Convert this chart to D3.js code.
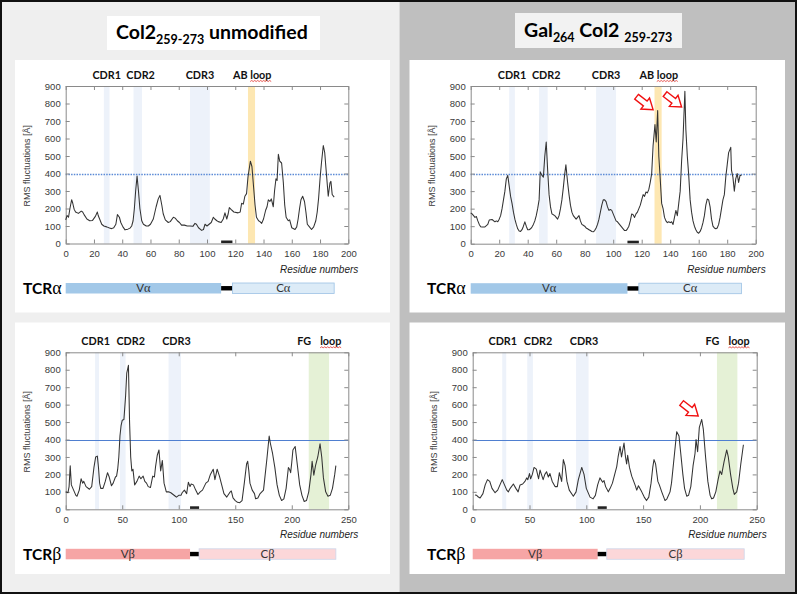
<!DOCTYPE html>
<html><head><meta charset="utf-8">
<script src="https://cdn.jsdelivr.net/npm/d3@7/dist/d3.min.js"></script>
<style>body{margin:0;background:#fff}svg{display:block}</style>
</head><body><svg id="c" width="797" height="594"></svg>
<script>
// ---------- data ----------
const xTicksAlpha = [0,20,40,60,80,100,120,140,160,180,200];
const xTicksBeta = [0,50,100,150,200,250];
const yTicks = [0,100,200,300,400,500,600,700,800,900];
const titleLeft = ["Col2", "259-273", " unmodified"];
const titleRight = ["Gal", "264", " Col2 ", "259-273"];

const bandsAlpha = [[27,31,"cdr"],[48,54,"cdr"],[88,102,"cdr"],[129,134,"ab"]];
const bandsBeta = [[26,29.5,"cdr"],[48,53,"cdr"],[91,102,"cdr"],[215,233,"fg"]];
const labelsAlpha = [{t:"CDR1",r:29},{t:"CDR2",r:53},{t:"CDR3",r:95},{t:"AB loop",r:132,sq:3}];
const labelsBeta = [{t:"CDR1",r:26.5},{t:"CDR2",r:57.5},{t:"CDR3",r:98},{t:"FG",r:211},{t:"loop",r:234.5,sq:0}];

const domainsAlpha = [{name:"Vα",a:0,b:110,k:"V"},{name:"",a:110,b:118,k:"L"},{name:"Cα",a:118,b:190,k:"C"}];
const domainsBeta = [{name:"Vβ",a:0,b:110,k:"V"},{name:"",a:110,b:118,k:"L"},{name:"Cβ",a:118,b:239,k:"C"}];
const linkerRes = [110,118];

const rmsfAlphaCol2 = [[0,135],[1,160],[2,150],[3,200],[4.2,250],[5,230],[6,195],[7,180],[9,172],[11,185],[12,180],[13,165],[15,140],[17,130],[19,132],[21,155],[22.4,180],[23,160],[24,140],[25.5,110],[27,100],[29,95],[31,88],[32.5,85],[34,90],[35.5,110],[36.6,165],[38,150],[39,120],[40.5,95],[42,78],[44,82],[45.5,88],[46.7,100],[47.7,130],[48.6,200],[49.5,300],[50.5,385],[51.5,300],[52.5,200],[53.8,130],[55,110],[57,100],[58.5,100],[60,110],[62,140],[64,210],[65.5,255],[66.7,275],[68,220],[69,170],[70.5,135],[72.6,120],[74,125],[76.2,150],[77.5,145],[79,130],[80.5,120],[82,105],[84,105],[86,100],[88,100],[90,98],[91.5,115],[92.5,110],[94,90],[96.2,75],[97.5,80],[98.6,110],[100,100],[101.5,110],[103,120],[104.5,150],[105.5,140],[107,130],[108,125],[110,120],[111.5,140],[112.7,175],[114,140],[115,170],[115.8,205],[117,195],[119,180],[122,175],[123.5,180],[124.5,230],[125.7,225],[126.8,270],[128,285],[129,380],[130.7,470],[131.8,440],[133,320],[134,220],[135,150],[136.5,130],[137.5,125],[138.7,115],[140,140],[141.5,190],[142.5,210],[143.4,250],[144.5,240],[145.5,255],[146.9,210],[147.8,300],[148.8,370],[149.6,360],[150.5,510],[151.5,470],[152.8,460],[154,350],[155,220],[156,150],[157.5,130],[158.5,135],[160,90],[162.3,80],[163.5,95],[164.5,140],[165.5,200],[166.5,250],[167.7,270],[169,240],[170,180],[171,110],[172.5,95],[174,80],[175.5,95],[177,130],[178,180],[179,260],[180,370],[181,460],[182.3,560],[183.3,520],[184.3,420],[185.8,270],[187,345],[187.7,355],[188.6,280],[190,265]];

const rmsfAlphaGal = [[0,175],[1,170],[2,160],[3,150],[4,155],[5,130],[6,110],[7,97],[8,95],[10,96],[12,110],[13,135],[15,138],[17,125],[18,130],[19,125],[20,140],[21,160],[22,200],[23,250],[24,300],[25,370],[26,390],[27,330],[28,270],[29,230],[30,180],[31,140],[32,110],[33,85],[34,72],[35,70],[36,80],[37,100],[38,125],[39,100],[40,80],[41,80],[42,85],[43,95],[44,110],[45,130],[46,160],[47,200],[48,250],[48.8,410],[50,390],[51,380],[52,500],[53,580],[54,420],[55,280],[56,210],[57,170],[58,165],[59,160],[60,150],[61,140],[62,160],[63,200],[64,250],[65,320],[66,400],[66.8,450],[68,350],[69,280],[70,220],[71,180],[72,160],[73,150],[74,140],[75,150],[76,160],[77,130],[78,110],[79,105],[80,100],[81,90],[82,85],[83,80],[84,75],[85,70],[86,68],[87,75],[88,90],[89,110],[90,140],[91,180],[92,220],[93,250],[94,250],[95,240],[96,210],[97,190],[98,195],[99,190],[100,170],[101,150],[102,130],[103,125],[104,115],[105,105],[106,95],[107,85],[108,75],[109,75],[110,85],[111,100],[112,130],[113,170],[114,165],[115,150],[116,170],[117,180],[118,200],[119,220],[120,250],[121,280],[122,270],[123,295],[124,290],[125,310],[126,350],[127,400],[128,560],[129.3,680],[130.2,580],[131.2,760],[132,500],[133,370],[134,230],[135,200],[136,150],[137,130],[138,120],[139,125],[140,120],[141,125],[142,110],[143,150],[144,190],[145,160],[146,230],[147,300],[148,470],[149,600],[150.3,870],[151,650],[152,500],[153,390],[154,250],[155,180],[156,130],[157,100],[158,80],[159,65],[160,60],[161,70],[162,90],[163,120],[164,160],[165,220],[166,255],[167,250],[168,210],[169,140],[170,100],[171,90],[172,85],[173,90],[174,110],[175,150],[176,200],[177,250],[178,280],[179,380],[180,450],[181,520],[182.5,550],[183,420],[184,380],[185,300],[186,370],[187,400],[188,350],[189,390],[190,390]];

const rmsfBetaCol2 = [[0,100],[2,95],[3,130],[4,250],[5,140],[7,110],[9,80],[10,75],[12,110],[13.6,175],[15,150],[16,160],[18,130],[21,115],[23,130],[25,240],[26.5,300],[28,305],[29,240],[30,150],[31,120],[33,120],[35,160],[37,210],[38.5,185],[40.5,135],[42,150],[44,185],[45,190],[46,230],[47,300],[48,420],[49,480],[50,510],[51.5,515],[53,650],[54,780],[55.5,825],[56.5,500],[57.5,300],[58.5,220],[59.5,230],[61,140],[63,160],[65,190],[66.5,175],[68.5,190],[70,160],[71.5,150],[73,130],[75,125],[77,190],[78.5,185],[79.5,245],[81,310],[82.5,340],[84,220],[85.5,280],[87,150],[89,100],[91,100],[93,95],[95,85],[97,75],[98,70],[100,80],[102,80],[103,95],[105,110],[107,90],[108.5,155],[110,130],[111,145],[113,140],[115,110],[117,85],[119,100],[121,110],[124,150],[126,160],[128,200],[130.5,230],[132,170],[134,230],[136,190],[138,140],[140,90],[142.5,70],[145,95],[146.5,105],[148,65],[150,50],[152,40],[154,38],[156,50],[158,150],[160,260],[161,275],[162,220],[163,150],[165,110],[167,90],[168,60],[170,65],[172,90],[173.5,100],[175,110],[176,170],[178,290],[180,420],[181,380],[183,320],[185,240],[187,140],[189,80],[191,50],[193,60],[195,120],[197,240],[198,230],[199,210],[200,270],[201,340],[203,360],[205,250],[207,140],[209,80],[211,45],[213,50],[215,100],[217,200],[218,275],[219.5,195],[221,250],[223,300],[225,375],[226.5,300],[228,180],[230,100],[232,75],[234,80],[236,120],[238,200],[239,250]];

const rmsfBetaGal = [[2,82],[3.5,80],[5,70],[6.5,65],[9,90],[11,140],[13,170],[15,160],[17,120],[19.7,95],[22,110],[24,140],[26,170],[28,140],[30,110],[31.4,100],[33,120],[35.8,145],[38,120],[40,100],[41.7,140],[44,145],[46,160],[47.5,180],[48.5,170],[50,205],[51,175],[52.5,200],[54,240],[56,230],[58,175],[59.3,225],[60.5,200],[62,170],[63.5,200],[65,215],[66.6,185],[68,205],[70,160],[72.5,130],[74.5,130],[76.3,210],[78.3,160],[79.8,285],[81.3,250],[83,160],[85,110],[88.6,75],[91,100],[93,170],[96,240],[98,200],[100,120],[103.3,70],[106,60],[108,80],[110,140],[112,180],[114.4,155],[115.6,165],[117,130],[119.4,100],[121,120],[123,150],[125,200],[126.8,245],[128,300],[129.7,360],[131,300],[133.2,380],[134.5,300],[135.5,260],[136.4,310],[138,240],[140,190],[142.9,140],[144.4,110],[145.9,135],[148.8,100],[151,70],[153,50],[155,70],[157,150],[158.5,240],[159.6,285],[161,260],[163,160],[164.3,140],[166.4,100],[169.3,50],[171,60],[173.7,100],[175,150],[177.5,310],[179.6,445],[181.6,420],[183,330],[185,200],[186.5,120],[188.4,75],[190,80],[192,130],[194,250],[195.7,320],[196.6,400],[198,330],[199.5,470],[201.6,515],[203,460],[205,300],[207,160],[209,80],[210.4,60],[212,65],[214,100],[216,170],[217.7,220],[219.2,200],[221.2,270],[223.6,340],[225,300],[227,200],[229,120],[230.3,85],[232.4,100],[234,150],[236,260],[238.3,370]];

const arrowsGalAlpha = [[128,765],[148,780]];
const arrowsGalBeta = [[198.5,535]];
const threshold = 400;

// ---------- layout ----------
const svg = d3.select("#c");
const W = 797, H = 594;
svg.append("rect").attr("x",0).attr("y",0).attr("width",399.5).attr("height",H).attr("fill","#efefef");
svg.append("rect").attr("x",399.5).attr("y",0).attr("width",W-399.5).attr("height",H).attr("fill","#bfbfbf");
svg.append("rect").attr("x",1).attr("y",1).attr("width",W-2).attr("height",H-2).attr("fill","none").attr("stroke","#111").attr("stroke-width",2);

const LAB = "Lato, 'Open Sans', sans-serif";
const TICKF = "'Liberation Sans', Arial, sans-serif";

function title(box, fill, x0, base) {
  svg.append("rect").attr("x",box[0]).attr("y",box[1]).attr("width",box[2]-box[0]).attr("height",box[3]-box[1]).attr("fill",fill);
  return svg.append("text").attr("x",x0).attr("y",base).attr("font-family",LAB).attr("font-weight","bold").attr("font-size",19.5).attr("fill","#000").attr("xml:space","preserve");
}
const tl = title([107,16,320,50],"#ffffff",116,39);
tl.append("tspan").text(titleLeft[0]);
tl.append("tspan").attr("font-size",12.5).attr("dy",5).text(titleLeft[1]);
tl.append("tspan").attr("dy",-5).text(titleLeft[2]);
const tr = title([515,13,682,48],"#f2f2f2",524,37);
tr.append("tspan").text(titleRight[0]);
tr.append("tspan").attr("font-size",12.5).attr("dy",5).text(titleRight[1]);
tr.append("tspan").attr("dy",-5).text(titleRight[2]);
tr.append("tspan").attr("font-size",12.5).attr("dy",5).text(titleRight[3]);

const panels = [
  {box:[15,60,390,312.5], L:65.7, R:348.3, T:86, B:243.5, xmax:200, xt:xTicksAlpha, bands:bandsAlpha, labels:labelsAlpha, data:rmsfAlphaCol2, dotted:true, dom:domainsAlpha, tcr:"α", tx:23, arrows:[]},
  {box:[409.5,60,785,312.5], L:470.7, R:755.7, T:86, B:243.7, xmax:200, xt:xTicksAlpha, bands:bandsAlpha, labels:labelsAlpha, data:rmsfAlphaGal, dotted:true, dom:domainsAlpha, tcr:"α", tx:427, arrows:arrowsGalAlpha},
  {box:[15,322.5,390,574], L:65.7, R:348.3, T:352.3, B:509.3, xmax:250, xt:xTicksBeta, bands:bandsBeta, labels:labelsBeta, data:rmsfBetaCol2, dotted:false, dom:domainsBeta, tcr:"β", tx:23, arrows:[]},
  {box:[409.5,322.5,785,574], L:472.7, R:756.7, T:352.3, B:509.3, xmax:250, xt:xTicksBeta, bands:bandsBeta, labels:labelsBeta, data:rmsfBetaGal, dotted:false, dom:domainsBeta, tcr:"β", tx:427, arrows:arrowsGalBeta}
];

const bandFill = {cdr:"#edf2fa", ab:"#fde7b2", fg:"#e5f1d6"};
const domFill = {α:{V:"#a2c8e8",C:"#dcebf7",stroke:"#9cc1e4"}, β:{V:"#f6a5a5",C:"#fcd7d9",stroke:"#cdd6ea"}};

panels.forEach(p => {
  const g = svg.append("g");
  g.append("rect").attr("x",p.box[0]).attr("y",p.box[1]).attr("width",p.box[2]-p.box[0]).attr("height",p.box[3]-p.box[1]).attr("fill","#fff");
  const x = d3.scaleLinear().domain([0,p.xmax]).range([p.L,p.R]);
  const y = d3.scaleLinear().domain([0,900]).range([p.B,p.T]);

  g.selectAll(".band").data(p.bands).join("rect").attr("class","band")
    .attr("x",d=>x(d[0])).attr("width",d=>x(d[1])-x(d[0]))
    .attr("y",p.T).attr("height",p.B-p.T).attr("fill",d=>bandFill[d[2]]);

  // threshold line
  const ty = Math.round(y(threshold)) + 0.5;
  g.append("line").attr("x1",p.L).attr("x2",p.R).attr("y1",ty).attr("y2",ty)
    .attr("stroke",p.dotted?"#5b8ad6":"#4f7fd0").attr("stroke-width",p.dotted?1.5:1)
    .attr("stroke-dasharray",p.dotted?"1.5,1.2":null);

  const axStyle = a => { a.selectAll("path").attr("stroke","#8a8a8a"); a.selectAll("line").attr("stroke","#8a8a8a");
     a.selectAll("text").attr("font-family",TICKF).attr("font-size",9.5).attr("fill","#3a3a3a"); };
  g.append("g").attr("transform",`translate(0,${p.B})`).call(d3.axisBottom(x).tickValues(p.xt).tickSizeInner(-4).tickSizeOuter(0).tickPadding(7)).call(axStyle);
  g.append("g").attr("transform",`translate(0,${p.T})`).call(d3.axisTop(x).tickValues(p.xt).tickSizeInner(-4).tickSizeOuter(0).tickFormat("")).call(axStyle);
  g.append("g").attr("transform",`translate(${p.L},0)`).call(d3.axisLeft(y).tickValues(yTicks).tickSizeInner(-4).tickSizeOuter(0).tickPadding(5)).call(axStyle);
  g.append("g").attr("transform",`translate(${p.R},0)`).call(d3.axisRight(y).tickValues(yTicks).tickSizeInner(-4).tickSizeOuter(0).tickFormat("")).call(axStyle);

  g.append("rect").attr("x",x(linkerRes[0])).attr("width",x(linkerRes[1])-x(linkerRes[0]))
    .attr("y",p.B-3).attr("height",2.6).attr("fill","#222");

  g.append("path").datum(p.data).attr("fill","none").attr("stroke","#333").attr("stroke-width",1.05)
    .attr("stroke-linejoin","round")
    .attr("d",d3.line().x(d=>x(d[0])).y(d=>y(d[1])));

  g.append("text").attr("transform",`translate(${p.L-36},${(p.T+p.B)/2+1}) rotate(-90)`)
    .attr("text-anchor","middle").attr("font-family",TICKF).attr("font-size",9).attr("fill","#3a3a3a")
    .text("RMS fluctuations [Å]");
  g.append("text").attr("x",p.R+10).attr("y",p.B+29).attr("text-anchor","end")
    .attr("font-family",TICKF).attr("font-style","italic").attr("font-size",10).attr("fill","#222")
    .text("Residue numbers");

  p.labels.forEach(l => {
    const t = g.append("text").attr("x",x(l.r)).attr("y",p.T-7).attr("text-anchor","middle")
      .attr("font-family",LAB).attr("font-weight","bold").attr("font-size",10.8).attr("fill","#111").text(l.t);
    if (l.sq !== undefined) {
      const n = t.node();
      const s = n.getStartPositionOfChar(l.sq).x, e = n.getEndPositionOfChar(l.t.length-1).x;
      const yy = p.T-4.5; let dstr = `M${s},${yy}`; let up = true;
      for (let xx = s+1.5; xx <= e; xx += 1.5) { dstr += `L${xx},${up?yy-1:yy}`; up = !up; }
      g.append("path").attr("d",dstr).attr("fill","none").attr("stroke","#e0302a").attr("stroke-width",0.8);
    }
  });

  const by = p.B+39.5, bh = 10.5, col = domFill[p.tcr];
  p.dom.forEach(d => {
    if (d.k === "L") {
      g.append("rect").attr("x",x(d.a)).attr("width",x(d.b)-x(d.a)).attr("y",by+bh/2-2.2).attr("height",4.4).attr("fill","#000");
    } else {
      g.append("rect").attr("x",x(d.a)).attr("width",x(d.b)-x(d.a)).attr("y",by).attr("height",bh)
        .attr("fill",col[d.k]).attr("stroke",d.k==="C"?col.stroke:"none").attr("stroke-width",0.8);
      const t = g.append("text").attr("x",(x(d.a)+x(d.b))/2).attr("y",by+bh-1.5).attr("text-anchor","middle")
        .attr("font-family",LAB).attr("font-size",11.5).attr("fill","#333");
      t.append("tspan").text(d.name[0]);
      t.append("tspan").attr("font-family","'Liberation Serif', serif").attr("font-size",12.5).text(d.name.slice(1));
    }
  });
  const tt = g.append("text").attr("x",p.tx).attr("y",by+bh+0.5).attr("font-family",LAB).attr("font-weight","bold").attr("font-size",15.5).attr("fill","#000");
  tt.append("tspan").text("TCR");
  tt.append("tspan").attr("font-family","'Liberation Serif', serif").attr("font-weight","normal").attr("font-size",18).text(p.tcr);

  const shape = "M-21,-3L-10,-3L-10,-7L0,0L-10,7L-10,3L-21,3Z";
  p.arrows.forEach(a => {
    g.append("path").attr("d",shape)
      .attr("transform",`translate(${x(a[0])},${y(a[1])}) rotate(38)`)
      .attr("fill","#fff").attr("stroke","#f01010").attr("stroke-width",1.4).attr("stroke-linejoin","miter");
  });
});
</script></body></html>
